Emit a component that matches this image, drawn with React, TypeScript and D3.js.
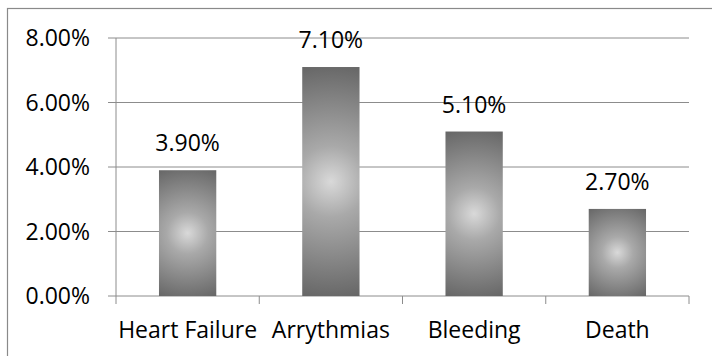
import React from "react";
import * as d3 from "d3";

const categories = ["Heart Failure", "Arrythmias", "Bleeding", "Death"];
const values = [3.9, 7.1, 5.1, 2.7];
const yTicks = [0, 2, 4, 6, 8];

const W = 712;
const H = 356;
const left = 116;
const right = 689;
const top = 38;
const bottom = 296;
const FONT = "'Open Sans', sans-serif";
const FS = 23;

export default function App() {
  const x = d3.scaleBand<string>().domain(categories).range([left, right]).paddingInner(0.6).paddingOuter(0.3);
  const xb = d3.scaleBand<string>().domain(categories).range([left, right]);
  const y = d3.scaleLinear().domain([0, 8]).range([bottom, top]);
  const fmt = (v: number) => v.toFixed(2) + "%";
  const gridColor = "#8c8c8c";

  return (
    <svg width={W} height={H} style={{ position: "absolute", left: 0, top: 0 }}>
      <defs>
        {categories.map((c, i) => {
          const bx = x(c)!;
          const bw = x.bandwidth();
          const by = y(values[i]);
          const bh = bottom - by;
          const r = Math.sqrt((bw / 2) ** 2 + (bh / 2) ** 2);
          return (
            <radialGradient
              key={c}
              id={`g${i}`}
              gradientUnits="userSpaceOnUse"
              cx={bx + bw / 2}
              cy={by + bh / 2}
              r={r}
            >
              <stop offset="0" stopColor="#d9d9d9" />
              <stop offset="0.3" stopColor="#a9a9a9" />
              <stop offset="1" stopColor="#666666" />
            </radialGradient>
          );
        })}
      </defs>
      <rect x={0} y={0} width={W} height={H} fill="#fff" />
      <rect x={7.5} y={8.5} width={W + 20} height={H + 20} fill="none" stroke="#8a8a8a" strokeWidth={1.2} />
      {yTicks.map((t) => (
        <g key={t}>
          <line x1={left - 8} x2={right} y1={y(t)} y2={y(t)} stroke={gridColor} strokeWidth={1} />
          <text
            x={90}
            y={y(t)}
            dy="0.35em"
            textAnchor="end"
            fontFamily={FONT}
            fontSize={FS}
            fill="#000"
          >
            {fmt(t)}
          </text>
        </g>
      ))}
      <line x1={left} x2={left} y1={top} y2={bottom} stroke={gridColor} strokeWidth={1} />
      {categories.map((c) => (
        <line key={c} x1={xb(c)!} x2={xb(c)!} y1={bottom} y2={bottom + 8} stroke={gridColor} strokeWidth={1} />
      ))}
      <line x1={right} x2={right} y1={bottom} y2={bottom + 8} stroke={gridColor} strokeWidth={1} />
      {categories.map((c, i) => {
        const bx = x(c)!;
        const bw = x.bandwidth();
        const by = y(values[i]);
        return (
          <g key={c}>
            <rect x={bx} y={by} width={bw} height={bottom - by} fill={`url(#g${i})`} />
            <text
              x={bx + bw / 2}
              y={by - 19}
              textAnchor="middle"
              fontFamily={FONT}
              fontSize={FS}
              fill="#000"
            >
              {fmt(values[i])}
            </text>
            <text
              x={xb(c)! + xb.bandwidth() / 2}
              y={338}
              textAnchor="middle"
              fontFamily={FONT}
              fontSize={FS}
              fill="#000"
            >
              {c}
            </text>
          </g>
        );
      })}
    </svg>
  );
}
